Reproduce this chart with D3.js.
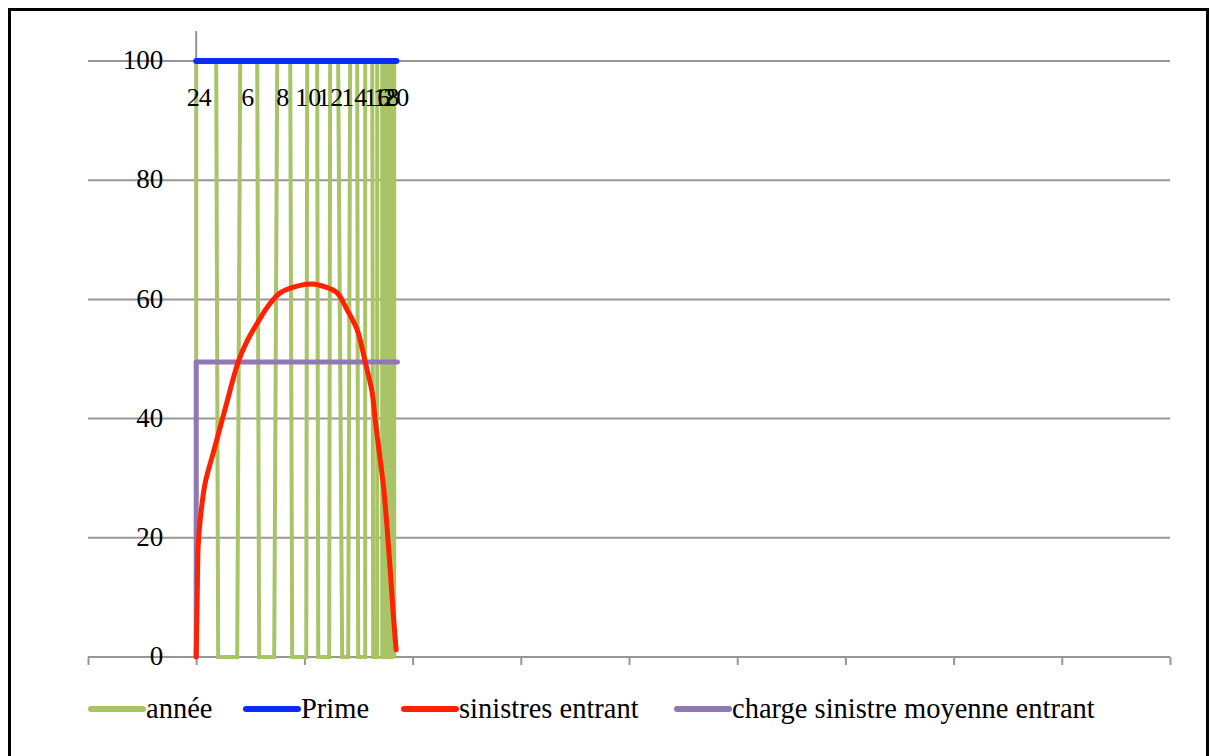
<!DOCTYPE html>
<html>
<head>
<meta charset="utf-8">
<script src="https://cdn.jsdelivr.net/npm/d3@7"></script>
<style>
  body { margin: 0; background: #fff; }
  svg { display: block; }
  text { font-family: "Liberation Serif", "DejaVu Serif", serif; fill: #000; }
</style>
</head>
<body>
<svg id="chart" width="1213" height="756"></svg>
<script>
// ---- data ----
const seriesNames  = ["année", "Prime", "sinistres entrant", "charge sinistre moyenne entrant"];
const seriesColors = ["#a8c466", "#0a2cff", "#ff2200", "#8f78b6"];

const yTickValues = [0, 20, 40, 60, 80, 100];
const xTickValues = [-10, 0, 10, 20, 30, 40, 50, 60, 70, 80, 90];

// "année" series: rises to 100 and falls back to 0 at each year boundary
const anneeX = [0, 0, 1.85, 2.03, 3.79, 4.07, 5.64, 5.82, 7.21, 7.49,
                8.69, 8.87, 10.17, 10.26, 11.18, 11.28, 12.29, 12.38, 13.12, 13.49,
                14.05, 14.23, 14.88, 14.97, 15.62, 15.62, 16.27, 16.36, 16.73, 16.73,
                17.19, 17.19, 17.56, 17.56, 17.84, 17.84, 18.11, 18.11, 18.30, 18.30];
const anneeY = [0, 100, 100, 0, 0, 100, 100, 0, 0, 100,
                100, 0, 0, 100, 100, 0, 0, 100, 100, 0,
                0, 100, 100, 0, 0, 100, 100, 0, 0, 100,
                100, 0, 0, 100, 100, 0, 0, 100, 100, 0];

// year labels written along the top
const anneeLabels  = ["2", "4", "6", "8", "10", "12", "14", "16", "18", "20"];
const anneeLabelX  = [-0.28, 0.83, 4.76, 8.0, 10.35, 12.38, 14.6, 16.73, 17.56, 18.48];
const anneeLabelY  = 93.5;

const primeX = [0, 18.5];
const primeY = [100, 100];

const sinistresX = [0, 0.09, 0.18, 0.37, 0.83, 1.57, 2.40, 3.14, 3.88, 4.7,
                    5.64, 6.65, 7.76, 9.24, 10.72, 11.92, 13.03, 13.96, 14.88, 15.62,
                    16.27, 16.54, 16.91, 17.31, 17.63, 17.93, 18.2, 18.48];
const sinistresY = [0, 9.6, 18.5, 23.0, 29.2, 34.2, 39.8, 44.8, 49.5, 53.0,
                    56.0, 58.9, 61.1, 62.2, 62.6, 62.1, 61.1, 58.2, 54.9, 49.5,
                    44.3, 39.8, 34.5, 28.6, 22.0, 14.6, 7.5, 1.2];

const chargeX = [0, 0, 18.6];
const chargeY = [0, 49.5, 49.5];

// ---- layout ----
const svg = d3.select("#chart");
const plot = { left: 88, right: 1170, top: 31, bottom: 657, yTop: 61 };

const x = d3.scaleLinear().domain([-10, 90]).range([plot.left, plot.right]);
const y = d3.scaleLinear().domain([0, 100]).range([plot.bottom, plot.yTop]);

// outer frame
svg.append("rect")
  .attr("x", 9.5).attr("y", 9.5).attr("width", 1198).attr("height", 780)
  .attr("fill", "none").attr("stroke", "#000").attr("stroke-width", 3);

// horizontal gridlines
svg.append("g")
  .selectAll("line")
  .data(yTickValues.filter(v => v !== 0))
  .join("line")
  .attr("x1", plot.left).attr("x2", plot.right)
  .attr("y1", d => y(d)).attr("y2", d => y(d))
  .attr("stroke", "#979797").attr("stroke-width", 2);

// horizontal axis with downward ticks
const xAxis = d3.axisBottom(x).tickValues(xTickValues).tickSize(8).tickFormat("");
const gx = svg.append("g").attr("transform", `translate(0,${plot.bottom})`).call(xAxis);
gx.select(".domain").attr("stroke", "#979797").attr("stroke-width", 2).attr("d", `M${plot.left},0H${plot.right}`);
gx.selectAll(".tick line").attr("stroke", "#979797").attr("stroke-width", 2);

// vertical axis line at x = 0
svg.append("line")
  .attr("x1", x(0)).attr("x2", x(0))
  .attr("y1", plot.top).attr("y2", plot.bottom)
  .attr("stroke", "#979797").attr("stroke-width", 2);

// vertical axis labels
svg.append("g")
  .selectAll("text")
  .data(yTickValues)
  .join("text")
  .attr("x", x(0) - 33)
  .attr("y", d => y(d) + 2)
  .attr("text-anchor", "end")
  .attr("dominant-baseline", "middle")
  .attr("font-size", 27)
  .text(d => d);

// ---- series ----
const line = d3.line().x(d => x(d[0])).y(d => y(d[1]));
const smooth = d3.line().x(d => x(d[0])).y(d => y(d[1])).curve(d3.curveCatmullRom.alpha(0.5));

const anneePts = anneeX.map((v, i) => [v, anneeY[i]]);
const primePts = primeX.map((v, i) => [v, primeY[i]]);
const sinPts = sinistresX.map((v, i) => [v, sinistresY[i]]);
const chargePts = chargeX.map((v, i) => [v, chargeY[i]]);

svg.append("path").attr("d", line(anneePts))
  .attr("fill", "none").attr("stroke", seriesColors[0]).attr("stroke-width", 4)
  .attr("stroke-linejoin", "miter");

svg.append("path").attr("d", line(primePts))
  .attr("fill", "none").attr("stroke", seriesColors[1]).attr("stroke-width", 6)
  .attr("stroke-linecap", "round");

svg.append("path").attr("d", line(chargePts))
  .attr("fill", "none").attr("stroke", seriesColors[3]).attr("stroke-width", 5)
  .attr("stroke-linecap", "round").attr("stroke-linejoin", "round");

svg.append("path").attr("d", smooth(sinPts))
  .attr("fill", "none").attr("stroke", seriesColors[2]).attr("stroke-width", 5)
  .attr("stroke-linecap", "round").attr("stroke-linejoin", "round");

// year labels
svg.append("g")
  .selectAll("text")
  .data(anneeLabels)
  .join("text")
  .attr("x", (d, i) => x(anneeLabelX[i]))
  .attr("y", y(anneeLabelY))
  .attr("text-anchor", "middle")
  .attr("dominant-baseline", "middle")
  .attr("font-size", 26)
  .text(d => d);

// ---- legend ----
const legendStarts = [91, 246, 404, 677];
const legendY = 709;
const legend = svg.append("g");
seriesNames.forEach((name, i) => {
  const x0 = legendStarts[i];
  legend.append("line")
    .attr("x1", x0).attr("x2", x0 + 52)
    .attr("y1", legendY).attr("y2", legendY)
    .attr("stroke", seriesColors[i]).attr("stroke-width", 6)
    .attr("stroke-linecap", "round");
  legend.append("text")
    .attr("x", x0 + 55)
    .attr("y", legendY + 2)
    .attr("dominant-baseline", "middle")
    .attr("font-size", 28.5)
    .text(name);
});
</script>
</body>
</html>
